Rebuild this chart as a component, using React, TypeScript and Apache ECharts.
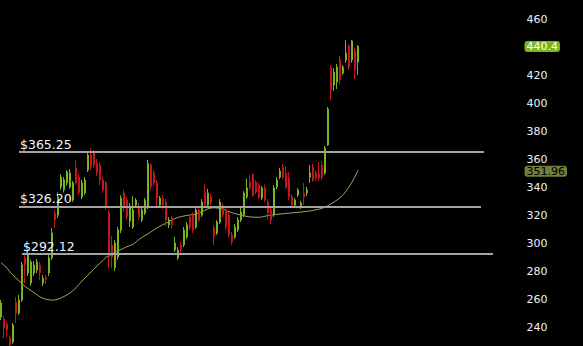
import React, { useEffect, useRef } from "react";
import * as echarts from "echarts";

// [open, close, low, high] per session
const candles: number[][] = [
  [247.1, 257.1, 245.0, 259.3], [245.7, 239.3, 232.1, 247.9], [242.1, 237.9, 232.9, 244.0], [232.1, 227.1, 226.5, 234.0],
  [229.3, 241.4, 228.0, 243.0], [257.9, 250.0, 242.9, 261.4], [250.0, 259.3, 248.6, 262.9], [259.3, 284.3, 257.9, 286.4],
  [289.3, 284.3, 271.4, 291.4], [278.6, 292.4, 276.4, 294.0], [271.4, 286.4, 269.3, 288.0], [278.6, 284.3, 276.4, 287.1],
  [280.7, 286.4, 278.6, 288.6], [284.3, 278.6, 273.6, 286.4], [271.4, 275.0, 269.3, 277.1], [275.7, 273.6, 270.7, 277.1],
  [278.6, 289.3, 276.4, 291.4], [289.3, 307.1, 287.9, 310.7], [321.4, 316.4, 310.7, 323.6], [320.0, 333.0, 318.0, 336.0],
  [340.0, 347.0, 338.0, 349.0], [337.9, 345.0, 336.0, 347.0], [342.9, 350.7, 341.0, 352.0], [340.0, 350.0, 338.6, 352.9],
  [330.7, 342.9, 329.3, 344.3], [353.6, 342.9, 341.4, 359.3], [347.1, 335.7, 334.3, 349.3], [332.9, 342.9, 331.4, 345.0],
  [335.7, 345.0, 334.3, 347.1], [352.1, 362.9, 350.7, 365.0], [362.9, 354.3, 352.1, 367.9], [364.3, 355.7, 353.6, 366.4],
  [357.1, 350.0, 347.9, 360.0], [355.7, 345.0, 341.4, 357.9], [345.0, 337.9, 335.7, 347.1], [342.9, 325.7, 323.6, 344.3],
  [321.7, 290.0, 282.1, 323.6], [298.6, 290.0, 282.0, 305.0], [282.4, 300.0, 280.0, 302.0], [290.0, 309.3, 288.0, 311.4],
  [309.0, 332.0, 307.0, 334.0], [335.7, 325.7, 322.1, 338.0], [330.7, 318.6, 316.4, 332.9], [315.7, 326.4, 311.4, 328.6],
  [311.4, 323.6, 310.0, 333.6], [327.1, 330.7, 325.7, 332.1], [325.7, 318.6, 316.4, 328.6], [316.4, 323.6, 315.0, 325.0],
  [321.4, 330.7, 320.0, 332.1], [325.7, 356.7, 324.3, 359.3], [355.7, 340.0, 337.9, 357.1], [350.0, 342.9, 340.7, 352.1],
  [342.9, 332.1, 325.0, 345.0], [327.1, 332.1, 325.0, 333.6], [332.1, 327.1, 324.3, 334.3], [329.3, 316.4, 312.1, 331.4],
  [312.9, 316.4, 310.7, 318.6], [317.9, 312.9, 310.0, 319.3], [295.0, 300.0, 293.6, 304.3], [289.3, 295.0, 287.9, 297.1],
  [298.6, 295.0, 292.9, 300.7], [298.6, 309.3, 297.0, 311.4], [304.3, 312.9, 302.9, 315.0], [318.6, 311.4, 309.3, 320.7],
  [320.0, 309.3, 307.1, 322.1], [311.4, 323.6, 310.0, 325.0], [323.6, 316.4, 315.0, 325.7], [320.0, 329.3, 318.6, 331.4],
  [336.4, 327.1, 325.0, 342.1], [327.1, 335.7, 326.4, 338.6], [332.9, 328.6, 327.1, 335.0], [310.7, 304.3, 298.6, 312.9],
  [307.1, 315.0, 305.7, 316.4], [315.0, 329.3, 313.6, 331.4], [326.4, 320.0, 318.6, 328.6], [323.6, 311.4, 309.3, 325.7],
  [320.0, 305.7, 303.6, 322.1], [305.7, 300.7, 298.6, 307.9], [304.3, 311.4, 302.9, 313.6], [309.3, 316.4, 307.9, 318.6],
  [316.4, 322.1, 315.0, 325.0], [320.0, 335.7, 318.6, 337.1], [332.9, 339.3, 331.4, 346.0], [343.6, 339.3, 337.9, 348.6],
  [348.6, 334.3, 332.9, 350.0], [343.6, 336.4, 335.0, 345.0], [341.4, 332.9, 331.4, 342.9], [332.1, 339.3, 330.7, 340.7],
  [339.3, 330.7, 329.3, 341.4], [329.3, 321.4, 316.4, 331.4], [323.6, 316.4, 313.6, 325.0], [320.0, 339.3, 318.6, 341.4],
  [340.0, 345.0, 338.6, 347.1], [347.1, 351.4, 345.7, 353.6], [354.3, 347.1, 345.7, 356.4], [350.0, 340.0, 338.6, 355.0],
  [346.4, 332.9, 330.7, 350.7], [332.9, 327.1, 325.7, 335.0], [327.1, 330.7, 325.7, 332.1], [334.3, 337.9, 332.9, 339.3],
  [326.4, 328.6, 324.3, 330.0], [335.7, 332.9, 327.1, 342.9], [335.7, 337.9, 333.6, 340.0], [347.1, 350.0, 342.9, 355.7],
  [354.3, 345.0, 343.6, 356.4], [350.0, 346.4, 344.3, 352.1], [349.3, 346.4, 344.3, 357.9], [355.7, 347.1, 345.0, 358.6],
  [350.0, 367.9, 348.6, 369.3], [370.0, 395.7, 369.3, 397.1], [425.7, 409.3, 402.1, 427.1], [412.9, 422.1, 408.6, 425.0],
  [415.0, 425.7, 410.0, 427.9], [431.4, 416.4, 413.6, 433.6], [421.4, 425.7, 420.0, 427.1], [430.7, 435.7, 428.6, 445.0],
  [440.7, 425.7, 423.6, 442.1], [430.7, 444.3, 428.6, 445.0], [437.1, 423.6, 417.1, 439.3], [429.3, 440.4, 420.0, 441.4],
];

// moving average
const movingAvg: number[] = [
  286, 284, 282, 279.3, 277, 275, 273, 271, 269, 267.5,
  266, 264.5, 263, 261.5, 260.5, 259.8, 259.4, 259.2, 259.3, 259.8,
  260.8, 261.8, 263, 264.3, 266, 268, 270.5, 272.8, 275, 277.2,
  279.3, 281.5, 283.6, 285.7, 287.5, 289.8, 290.6, 292, 293.5, 294.6,
  295.3, 296.4, 297.4, 298.2, 299, 300.7, 302.5, 304, 305.4, 306.6,
  308, 309.4, 310.8, 312, 313.2, 314, 315.3, 316.6, 317.5, 318.3,
  318.8, 319.3, 319.7, 320, 320.3, 320.8, 321.4, 322.3, 323.3, 324.5,
  325, 325.2, 325, 324.8, 324.2, 323.3, 322.4, 321.6, 321, 320.4,
  320, 319.4, 318.9, 318.6, 318.5, 318.4, 318.4, 318.6, 319.1, 319.6,
  320, 320.3, 320.5, 320.7, 320.9, 321.1, 321.3, 321.5, 321.7, 321.9,
  322.1, 322.4, 322.7, 322.9, 323.3, 323.7, 324.1, 324.8, 325.6, 326.6,
  328, 329.3, 330.7, 332.2, 334.4, 337, 340, 343.5, 347.5, 351.96,
];

const totalSlots = 174; // sessions + empty space to the right
const categories: string[] = Array.from({ length: totalSlots }, (_, i) => String(i));

const levels = [
  { value: 365.25, label: "$365.25", from: 6, to: 161 },
  { value: 326.2, label: "$326.20", from: 6, to: 160 },
  { value: 292.12, label: "$292.12", from: 7, to: 164 },
];

const lastClose = 440.4;
const lastAvg = 351.96;
const yTicks = { min: 220, max: 480, interval: 20 };
const hiddenTicks = [220, 440, 480];

const GREEN = "#7ab51d";
const RED = "#c4161c";
const FONT = "DejaVu Sans";

function priceTag(value: number, bg: string, fg: string, dy: number) {
  return {
    yAxis: value,
    lineStyle: { color: "rgba(0,0,0,0)", width: 1 },
    label: {
      show: true,
      position: "end",
      formatter: String(value),
      color: fg,
      backgroundColor: bg,
      borderRadius: 3,
      padding: [0, 2, 0, 2],
      fontSize: 11,
      lineHeight: 11,
      fontFamily: FONT,
      distance: 3,
      offset: [0, dy],
    },
  };
}

export default function App() {
  const ref = useRef<HTMLDivElement>(null);
  useEffect(() => {
    if (!ref.current) return;
    const chart = echarts.init(ref.current, null, { renderer: "svg" });
    const levelLines = levels.map((l) => [
      {
        coord: [l.from, l.value],
        label: {
          show: true,
          position: "insideStartTop",
          formatter: l.label,
          color: "#eef3ff",
          fontSize: 12.5,
          fontFamily: FONT,
          distance: [1, 1],
        },
      },
      { coord: [l.to, l.value] },
    ]);
    chart.setOption({
      animation: false,
      backgroundColor: "#000000",
      grid: { left: -0.5, right: 61.5, top: -9, bottom: -9, outerBoundsMode: "none", containLabel: false },
      xAxis: {
        type: "category",
        data: categories,
        boundaryGap: true,
        show: false,
      },
      yAxis: {
        type: "value",
        position: "right",
        min: yTicks.min,
        max: yTicks.max,
        interval: yTicks.interval,
        axisLine: { show: false },
        axisTick: { show: false },
        splitLine: { show: false },
        axisLabel: {
          color: "#eef2fa",
          fontSize: 11,
          lineHeight: 10,
          fontFamily: FONT,
          margin: 5,
          formatter: (v: number) => (hiddenTicks.includes(v) ? "" : String(v)),
        },
      },
      series: [
        {
          type: "candlestick",
          data: candles,
          barWidth: 1.8,
          itemStyle: {
            color: GREEN,
            color0: RED,
            borderColor: GREEN,
            borderColor0: RED,
            borderWidth: 1,
          },
          markLine: {
            silent: true,
            symbol: ["none", "none"],
            lineStyle: { color: "#a3a3a3", width: 2, type: "solid" },
            data: [...levelLines, priceTag(lastClose, GREEN, "#ffffff", 0)],
          },
          z: 3,
        },
        {
          type: "line",
          data: movingAvg,
          symbol: "none",
          lineStyle: { color: "#98a45a", width: 1 },
          z: 2,
          markLine: {
            silent: true,
            symbol: ["none", "none"],
            data: [priceTag(lastAvg, "#6f7f3c", "#000000", 1)],
          },
        },
      ],
    });
    return () => chart.dispose();
  }, []);
  return (
    <div
      ref={ref}
      style={{ position: "absolute", left: 0, top: 0, width: 583, height: 346, background: "#000" }}
    />
  );
}
